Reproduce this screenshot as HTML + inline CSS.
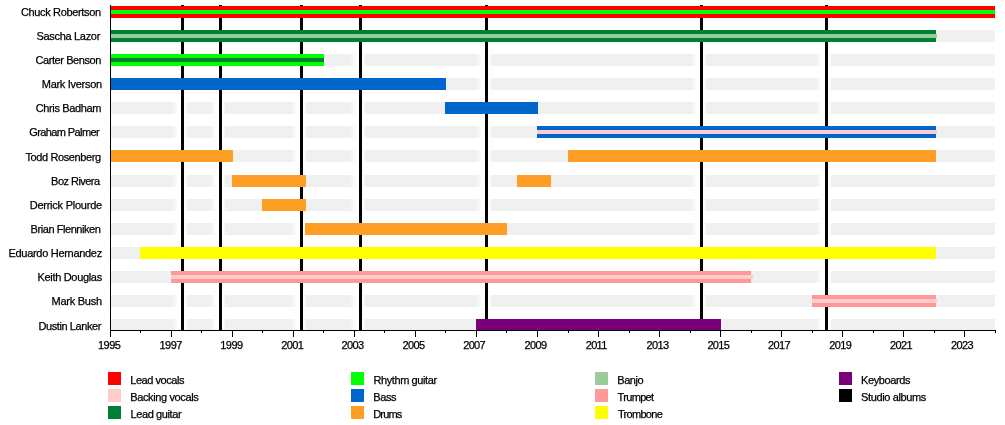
<!DOCTYPE html>
<html><head><meta charset="utf-8"><title>Timeline</title>
<style>
html,body{margin:0;padding:0;background:#fff}
#c{position:relative;width:1005px;height:425px;overflow:hidden;background:#fff;font-family:"Liberation Sans",sans-serif;font-size:11px;color:#000;line-height:20px}
#c div{position:absolute}
.t{white-space:nowrap;height:20px;-webkit-text-stroke:0.25px #000}
.g{background:#f0f0f0;height:12px;left:111px;width:884px}
.k{background:#000}
.h{top:20px;width:16px;height:310px;background:linear-gradient(to right,rgba(255,255,255,0) 0,#fff 38%,#fff 82%,rgba(255,255,255,0) 100%)}
</style></head><body><div id="c">

<div class="g" style="top:30px"></div>
<div class="g" style="top:54px"></div>
<div class="g" style="top:78px"></div>
<div class="g" style="top:102px"></div>
<div class="g" style="top:126px"></div>
<div class="g" style="top:150px"></div>
<div class="g" style="top:175px"></div>
<div class="g" style="top:199px"></div>
<div class="g" style="top:223px"></div>
<div class="g" style="top:247px"></div>
<div class="g" style="top:271px"></div>
<div class="g" style="top:295px"></div>
<div class="g" style="top:319px;height:11px"></div>
<div class="h" style="left:172px"></div>
<div class="h" style="left:210px"></div>
<div class="h" style="left:291px"></div>
<div class="h" style="left:350px"></div>
<div class="h" style="left:476px"></div>
<div class="h" style="left:691px"></div>
<div class="h" style="left:816px"></div>
<div class="k" style="left:181px;top:5px;width:3px;height:325px"></div>
<div class="k" style="left:219px;top:5px;width:3px;height:325px"></div>
<div class="k" style="left:300px;top:5px;width:3px;height:325px"></div>
<div class="k" style="left:359px;top:5px;width:3px;height:325px"></div>
<div class="k" style="left:485px;top:5px;width:3px;height:325px"></div>
<div class="k" style="left:700px;top:5px;width:3px;height:325px"></div>
<div class="k" style="left:825px;top:5px;width:3px;height:325px"></div>
<div style="left:111px;top:6px;width:884px;height:12px;background:#ff0000"></div>
<div style="left:111px;top:10px;width:884px;height:4px;background:#00ff00"></div>
<div style="left:111px;top:30px;width:825px;height:12px;background:#008033"></div>
<div style="left:111px;top:34px;width:826px;height:4px;background:#99cc99"></div>
<div style="left:111px;top:54px;width:213px;height:12px;background:#00ff00"></div>
<div style="left:111px;top:58px;width:213px;height:4px;background:#008033"></div>
<div style="left:111px;top:78px;width:335px;height:12px;background:#0066cc"></div>
<div style="left:445px;top:102px;width:93px;height:12px;background:#0066cc"></div>
<div style="left:537px;top:126px;width:399px;height:12px;background:#0066cc"></div>
<div style="left:537px;top:130px;width:400px;height:4px;background:#ffcccc"></div>
<div style="left:111px;top:150px;width:122px;height:12px;background:#ff9e24"></div>
<div style="left:568px;top:150px;width:368px;height:12px;background:#ff9e24"></div>
<div style="left:232px;top:175px;width:74px;height:12px;background:#ff9e24"></div>
<div style="left:517px;top:175px;width:34px;height:12px;background:#ff9e24"></div>
<div style="left:262px;top:199px;width:44px;height:12px;background:#ff9e24"></div>
<div style="left:305px;top:223px;width:202px;height:12px;background:#ff9e24"></div>
<div style="left:140px;top:247px;width:796px;height:12px;background:#ffff00"></div>
<div style="left:171px;top:271px;width:580px;height:12px;background:#ff9999"></div>
<div style="left:171px;top:275px;width:582px;height:4px;background:#ffcccc"></div>
<div style="left:812px;top:295px;width:124px;height:12px;background:#ff9999"></div>
<div style="left:812px;top:299px;width:125px;height:4px;background:#ffcccc"></div>
<div style="left:476px;top:319px;width:245px;height:11px;background:#780078"></div>
<div class="t" style="left:20.9px;top:2px;letter-spacing:-0.34px">Chuck Robertson</div>
<div class="t" style="left:36.4px;top:26px;letter-spacing:-0.3px">Sascha Lazor</div>
<div class="t" style="left:35.5px;top:50px;letter-spacing:-0.42px">Carter Benson</div>
<div class="t" style="left:41.8px;top:74px;letter-spacing:-0.3px">Mark Iverson</div>
<div class="t" style="left:35.7px;top:98px;letter-spacing:-0.35px">Chris Badham</div>
<div class="t" style="left:29.2px;top:122px;letter-spacing:-0.59px">Graham Palmer</div>
<div class="t" style="left:25.4px;top:147px;letter-spacing:-0.38px">Todd Rosenberg</div>
<div class="t" style="left:51.1px;top:171px;letter-spacing:-0.53px">Boz Rivera</div>
<div class="t" style="left:29.7px;top:195px;letter-spacing:-0.24px">Derrick Plourde</div>
<div class="t" style="left:30.6px;top:219px;letter-spacing:-0.44px">Brian Flenniken</div>
<div class="t" style="left:8.5px;top:243px;letter-spacing:-0.3px">Eduardo Hernandez</div>
<div class="t" style="left:37.5px;top:267px;letter-spacing:-0.32px">Keith Douglas</div>
<div class="t" style="left:51.5px;top:291px;letter-spacing:-0.25px">Mark Bush</div>
<div class="t" style="left:38.5px;top:316px;letter-spacing:-0.41px">Dustin Lanker</div>
<div class="k" style="left:110px;top:5px;width:1px;height:326px"></div>
<div class="k" style="left:110px;top:330px;width:886px;height:1px"></div>
<div class="k" style="left:110px;top:330px;width:1px;height:7px"></div>
<div class="t" style="left:98.0px;top:335px;letter-spacing:-0.5px">1995</div>
<div class="k" style="left:140px;top:330px;width:1px;height:3px"></div>
<div class="k" style="left:171px;top:330px;width:1px;height:7px"></div>
<div class="t" style="left:159.5px;top:335px;letter-spacing:-0.5px">1997</div>
<div class="k" style="left:201px;top:330px;width:1px;height:3px"></div>
<div class="k" style="left:232px;top:330px;width:1px;height:7px"></div>
<div class="t" style="left:220.2px;top:335px;letter-spacing:-0.5px">1999</div>
<div class="k" style="left:262px;top:330px;width:1px;height:3px"></div>
<div class="k" style="left:293px;top:330px;width:1px;height:7px"></div>
<div class="t" style="left:281.3px;top:335px;letter-spacing:-0.65px">2001</div>
<div class="k" style="left:323px;top:330px;width:1px;height:3px"></div>
<div class="k" style="left:354px;top:330px;width:1px;height:7px"></div>
<div class="t" style="left:341.5px;top:335px;letter-spacing:-0.65px">2003</div>
<div class="k" style="left:384px;top:330px;width:1px;height:3px"></div>
<div class="k" style="left:415px;top:330px;width:1px;height:7px"></div>
<div class="t" style="left:402.5px;top:335px;letter-spacing:-0.65px">2005</div>
<div class="k" style="left:445px;top:330px;width:1px;height:3px"></div>
<div class="k" style="left:476px;top:330px;width:1px;height:7px"></div>
<div class="t" style="left:463.2px;top:335px;letter-spacing:-0.65px">2007</div>
<div class="k" style="left:506px;top:330px;width:1px;height:3px"></div>
<div class="k" style="left:537px;top:330px;width:1px;height:7px"></div>
<div class="t" style="left:524.5px;top:335px;letter-spacing:-0.65px">2009</div>
<div class="k" style="left:568px;top:330px;width:1px;height:3px"></div>
<div class="k" style="left:598px;top:330px;width:1px;height:7px"></div>
<div class="t" style="left:585.7px;top:335px;letter-spacing:-0.65px">2011</div>
<div class="k" style="left:629px;top:330px;width:1px;height:3px"></div>
<div class="k" style="left:659px;top:330px;width:1px;height:7px"></div>
<div class="t" style="left:646.5px;top:335px;letter-spacing:-0.65px">2013</div>
<div class="k" style="left:690px;top:330px;width:1px;height:3px"></div>
<div class="k" style="left:720px;top:330px;width:1px;height:7px"></div>
<div class="t" style="left:707.4px;top:335px;letter-spacing:-0.65px">2015</div>
<div class="k" style="left:751px;top:330px;width:1px;height:3px"></div>
<div class="k" style="left:781px;top:330px;width:1px;height:7px"></div>
<div class="t" style="left:768.1px;top:335px;letter-spacing:-0.65px">2017</div>
<div class="k" style="left:812px;top:330px;width:1px;height:3px"></div>
<div class="k" style="left:842px;top:330px;width:1px;height:7px"></div>
<div class="t" style="left:829.3px;top:335px;letter-spacing:-0.65px">2019</div>
<div class="k" style="left:873px;top:330px;width:1px;height:3px"></div>
<div class="k" style="left:903px;top:330px;width:1px;height:7px"></div>
<div class="t" style="left:890.0px;top:335px;letter-spacing:-0.65px">2021</div>
<div class="k" style="left:934px;top:330px;width:1px;height:3px"></div>
<div class="k" style="left:964px;top:330px;width:1px;height:7px"></div>
<div class="t" style="left:951.0px;top:335px;letter-spacing:-0.65px">2023</div>
<div class="k" style="left:995px;top:330px;width:1px;height:3px"></div>
<div style="left:108px;top:372px;width:13px;height:13px;background:#ff0000"></div>
<div class="t" style="left:130.3px;top:370px;letter-spacing:-0.46px">Lead vocals</div>
<div style="left:108px;top:389px;width:13px;height:13px;background:#ffcccc"></div>
<div class="t" style="left:130.3px;top:387px;letter-spacing:-0.38px">Backing vocals</div>
<div style="left:108px;top:406px;width:13px;height:13px;background:#008033"></div>
<div class="t" style="left:130.6px;top:404px;letter-spacing:-0.4px">Lead guitar</div>
<div style="left:351px;top:372px;width:13px;height:13px;background:#00ff00"></div>
<div class="t" style="left:373.45px;top:370px;letter-spacing:-0.4px">Rhythm guitar</div>
<div style="left:351px;top:389px;width:13px;height:13px;background:#0066cc"></div>
<div class="t" style="left:373.25px;top:387px;letter-spacing:-0.41px">Bass</div>
<div style="left:351px;top:406px;width:13px;height:13px;background:#ff9e24"></div>
<div class="t" style="left:373.25px;top:404px;letter-spacing:-0.83px">Drums</div>
<div style="left:595px;top:372px;width:13px;height:13px;background:#99cc99"></div>
<div class="t" style="left:617.3px;top:370px;letter-spacing:-0.47px">Banjo</div>
<div style="left:595px;top:389px;width:13px;height:13px;background:#ff9999"></div>
<div class="t" style="left:617.6px;top:387px;letter-spacing:-0.68px">Trumpet</div>
<div style="left:595px;top:406px;width:13px;height:13px;background:#ffff00"></div>
<div class="t" style="left:617.9px;top:404px;letter-spacing:-0.69px">Trombone</div>
<div style="left:839px;top:372px;width:13px;height:13px;background:#780078"></div>
<div class="t" style="left:861.0px;top:370px;letter-spacing:-0.39px">Keyboards</div>
<div style="left:839px;top:389px;width:13px;height:13px;background:#000"></div>
<div class="t" style="left:861.1px;top:387px;letter-spacing:-0.37px">Studio albums</div>
</div></body></html>
